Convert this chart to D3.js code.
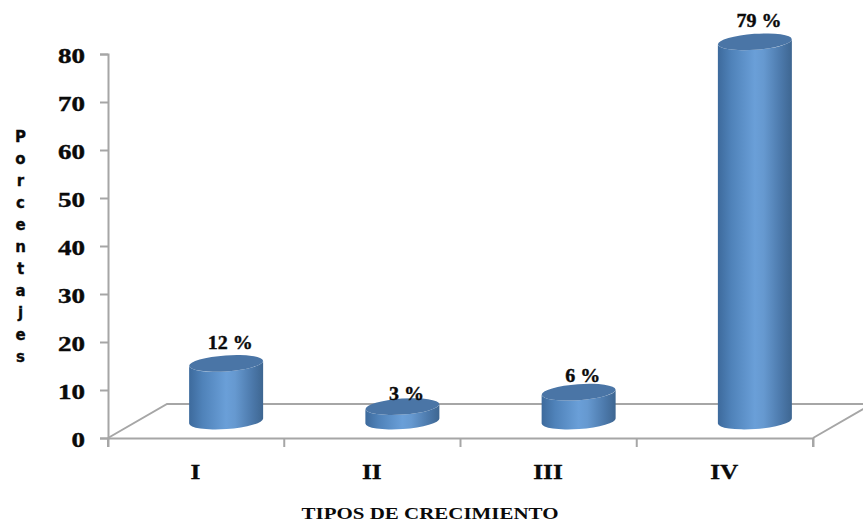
<!DOCTYPE html>
<html>
<head>
<meta charset="utf-8">
<script src="https://cdn.jsdelivr.net/npm/d3@7"></script>
<style>
html,body{margin:0;padding:0;background:#fff;overflow:hidden}
svg{display:block}
text{fill:#0a0a0a}
</style>
</head>
<body>
<svg id="chart" width="863" height="523"></svg>
<script>
const categories = ["I", "II", "III", "IV"];
const percentValues = [12, 3, 6, 79];
const percentLabels = ["12 %", "3 %", "6 %", "79 %"];
const yTicks = [0, 10, 20, 30, 40, 50, 60, 70, 80];
const yTitleLetters = ["P", "o", "r", "c", "e", "n", "t", "a", "j", "e", "s"];
const xTitle = "TIPOS DE CRECIMIENTO";

const svg = d3.select("#chart");
const axisColor = "#a6a6a6";
const serif = "'Liberation Serif', serif";

const x = d3.scaleBand().domain(categories).range([108, 813]);
const y = d3.scaleLinear().domain([0, 80]).range([438, 54]);

// 3D floor: the depth shift moves the cylinders back along the floor
const depthX = 59, depthY = -34;
const barShiftX = 30, barShiftY = -17;
const rx = 37, ry = 8, tilt = -4;
const tiltDy = rx * Math.sin(tilt * Math.PI / 180);

const defs = svg.append("defs");
const grad = defs.append("linearGradient").attr("id", "cyl")
  .attr("x1", 0).attr("x2", 1).attr("y1", 0).attr("y2", 0);
[[0, "#3d6a9c"], [0.18, "#4f82b9"], [0.5, "#6a9fd8"], [0.62, "#6699d0"], [0.85, "#4c79ab"], [1, "#3e6691"]]
  .forEach(([o, c]) => grad.append("stop").attr("offset", o).attr("stop-color", c));

// Floor outline
const floor = svg.append("g").attr("fill", "none").attr("stroke", axisColor).attr("stroke-width", 2);
floor.append("path").attr("d",
  d3.line()([[108, 438], [108 + depthX, 438 + depthY], [813 + depthX, 438 + depthY], [813, 438]]));

// Axes
const yAxis = d3.axisLeft(y).tickValues(yTicks).tickSize(8).tickSizeOuter(8);
const gy = svg.append("g").attr("transform", "translate(108,0)").call(yAxis);
gy.selectAll("path,line").attr("stroke", axisColor).attr("stroke-width", 2);
gy.selectAll("text")
  .attr("font-family", serif).attr("font-weight", "bold").attr("font-size", 20)
  .attr("stroke", "#0a0a0a").attr("stroke-width", 0.4)
  .attr("textLength", d => String(d).length * 13.5).attr("lengthAdjust", "spacingAndGlyphs")
  .attr("x", -23).attr("dy", "0.42em");

const xAxis = d3.axisBottom(x).tickSize(9).tickSizeOuter(9).tickFormat("");
const gx = svg.append("g").attr("transform", "translate(0,438)").call(xAxis);
gx.select("path").attr("stroke", axisColor).attr("stroke-width", 2);
gx.selectAll("line").remove();
const edges = x.domain().map(d => x(d)).concat(x.range()[1]);
gx.selectAll("line.edge").data(edges).join("line").attr("class", "edge")
  .attr("x1", d => d).attr("x2", d => d).attr("y1", 0).attr("y2", 9)
  .attr("stroke", axisColor).attr("stroke-width", 2);

// Category labels
svg.append("g").selectAll("text").data(categories).join("text")
  .attr("x", d => x(d) + x.bandwidth() / 2 - 0.5)
  .attr("y", 479)
  .attr("text-anchor", "middle")
  .attr("font-family", serif).attr("font-weight", "bold").attr("font-size", 22)
  .attr("transform-origin", d => `${x(d) + x.bandwidth() / 2} 479`)
  .attr("transform", "scale(1.15,1)")
  .attr("stroke", "#0a0a0a").attr("stroke-width", 0.3)
  .text(d => d);

// Cylinders; short bars have their label sitting closer to the top face
const baseY = y(0) + barShiftY;
const labelGap = v => v < 5 ? 7 : v < 10 ? 10 : 14.5;
const bars = svg.append("g").selectAll("g").data(categories.map((c, i) => ({ c, v: percentValues[i], l: percentLabels[i] })))
  .join("g");
bars.each(function (d) {
  const cx = x(d.c) + x.bandwidth() / 2 + barShiftX;
  const topY = y(d.v) + barShiftY;
  const g = d3.select(this);
  const body = `M${cx - rx},${topY - tiltDy} L${cx - rx},${baseY - tiltDy}`
    + ` A${rx},${ry} ${tilt} 0 0 ${cx + rx},${baseY + tiltDy}`
    + ` L${cx + rx},${topY + tiltDy}`
    + ` A${rx},${ry} ${tilt} 0 1 ${cx - rx},${topY - tiltDy} Z`;
  g.append("path").attr("d", body).attr("fill", "url(#cyl)");
  g.append("ellipse").attr("cx", cx).attr("cy", topY).attr("rx", rx).attr("ry", ry)
    .attr("transform", `rotate(${tilt} ${cx} ${topY})`)
    .attr("fill", "#4a75a6");
  g.append("text").attr("x", cx + 4).attr("y", topY - labelGap(d.v))
    .attr("text-anchor", "middle")
    .attr("font-family", serif).attr("font-weight", "bold").attr("font-size", 19)
    .attr("textLength", 35 + (d.l.length - 3) * 10).attr("lengthAdjust", "spacingAndGlyphs")
    .attr("stroke", "#0a0a0a").attr("stroke-width", 0.4)
    .text(d.l);
});

// Vertical axis title, one letter per line
svg.append("g").selectAll("text").data(yTitleLetters).join("text")
  .attr("x", 20.5)
  .attr("y", (d, i) => 142 + i * 22)
  .attr("text-anchor", "middle")
  .attr("font-family", "'DejaVu Sans', sans-serif").attr("font-weight", "bold").attr("font-size", 15)
  .attr("stroke", "#0a0a0a").attr("stroke-width", 0.3)
  .text(d => d);

// Horizontal axis title
svg.append("text").attr("x", 430).attr("y", 519)
  .attr("text-anchor", "middle")
  .attr("font-family", serif).attr("font-weight", "bold").attr("font-size", 17)
  .attr("textLength", 257).attr("lengthAdjust", "spacingAndGlyphs")
  .text(xTitle);
</script>
</body>
</html>
